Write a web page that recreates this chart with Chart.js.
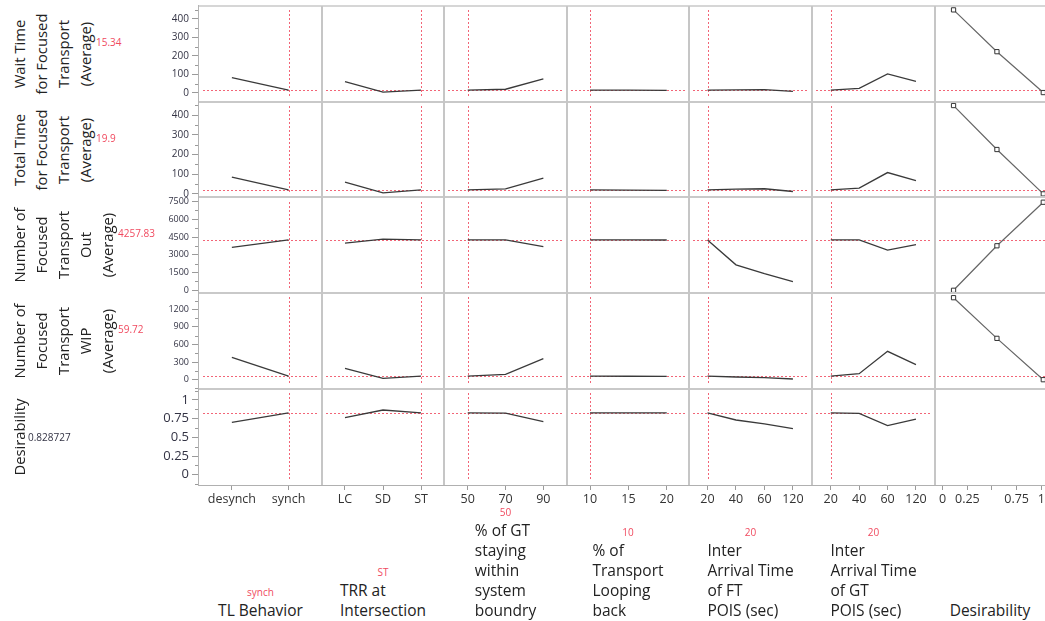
<!DOCTYPE html>
<html><head><meta charset="utf-8">
<script src="https://cdn.jsdelivr.net/npm/chart.js@4"></script>
<style>
html,body{margin:0;padding:0;background:#fff;width:1045px;height:621px;overflow:hidden;position:relative;font-family:'Open Sans',sans-serif;}
canvas{position:absolute;}
.ov{position:absolute;pointer-events:none;}
.rlab{position:absolute;text-align:center;white-space:nowrap;color:#222;font-size:14.8px;line-height:22px;transform:rotate(-90deg);}
.rval{position:absolute;font-size:10px;line-height:12px;white-space:nowrap;}
.flab{position:absolute;bottom:1px;transform:translateX(-50%);color:#222;}
.flab .cur{font-size:10px;line-height:16px;text-align:center;color:#f04a5f;}
.flab .nm{font-size:15.5px;line-height:20px;text-align:left;white-space:nowrap;}
</style></head><body>
<script>
// ---------- factors (x) ----------
const factorNames = [["TL Behavior"],["TRR at","Intersection"],["% of GT","staying","within","system","boundry"],["% of","Transport","Looping","back"],["Inter","Arrival Time","of FT","POIS (sec)"],["Inter","Arrival Time","of GT","POIS (sec)"],["Desirability"]];
const tlLevels = ["desynch","synch"];
const trrLevels = ["LC","SD","ST"];
const gtStayValues = [50,70,90];
const loopValues = [10,15,20];
const ftIatLevels = ["20","40","60","120"];
const gtIatLevels = ["20","40","60","120"];
const desirAxisTicks = [0,0.25,0.5,0.75,1];
const desirAxisLabels = ["0","0.25","","0.75","1"];
const currentFactorLabels = ["synch","ST","50","10","20","20"];

// ---------- responses (y) ----------
const responseNames = [["Wait Time","for Focused","Transport","(Average)"],["Total Time","for Focused","Transport","(Average)"],["Number of","Focused","Transport","Out","(Average)"],["Number of","Focused","Transport","WIP","(Average)"],["Desirability"]];
const currentResponses = [15.34, 19.9, 4257.83, 59.72, 0.828727];
const currentResponseLabels = ["15.34","19.9","4257.83","59.72","0.828727"];
const waitTicks = [0,100,200,300,400];
const totalTicks = [0,100,200,300,400];
const outTicks = [0,1500,3000,4500,6000,7500];
const wipTicks = [0,300,600,900,1200];
const desirTicks = [0,0.25,0.5,0.75,1];

// profile traces: one array per factor (TL, TRR, %GT, %Loop, IAT FT, IAT GT)
const waitTimeProfile  = [[83,15.34],[61,4,15.34],[15.34,20,76],[15.34,15,14],[15.34,17,18,8],[15.34,25,103,63]];
const totalTimeProfile = [[85,19.9],[60,5,19.9],[19.9,25,80],[19.9,19,18],[19.9,24,26,12],[19.9,29,108,67]];
const numOutProfile    = [[3618,4257.83],[3990,4330,4257.83],[4257.83,4258,3680],[4257.83,4255,4250],[4257.83,2150,1410,730],[4257.83,4258,3400,3850]];
const wipProfile       = [[382,59.72],[194,24,59.72],[59.72,92,358],[59.72,59,58],[59.72,46,34,12],[59.72,103,484,256]];
const desirProfile     = [[0.70,0.828727],[0.763,0.866,0.828727],[0.828727,0.825,0.71],[0.828727,0.828,0.828],[0.828727,0.732,0.68,0.616],[0.828727,0.82,0.656,0.745]];

// desirability functions (x = desirability, y = response)
const desirFnX = [0.11,0.55,1.02];
const waitDesirY  = [449,223,2];
const totalDesirY = [448,225,0];
const outDesirY   = [0,3760,7440];
const wipDesirY   = [1398,705,0];

// ---------- layout ----------
const colEdges = [199,322,444,567,689,812,935,1049];
const rowEdges = [6,102,197.5,293,389,485];
const xRanges = [[-0.58,1.59],[-0.605,2.605],[37.46,102.5],[7.0,22.9],[-0.65,3.67],[-0.66,3.67],[-0.078,1.078]];
const yRanges = [[-49,470],[-21,466],[-314,7797],[-158.6,1478],[-0.138,1.147]];
const yTickFont = [10,10,9,9,13];
const RED = '#f04a5f';

Chart.defaults.font.family = "'Open Sans', sans-serif";

const profiles = [waitTimeProfile,totalTimeProfile,numOutProfile,wipProfile,desirProfile];
const yTickSets = [waitTicks,totalTicks,outTicks,wipTicks,desirTicks];
const desirYs = [waitDesirY,totalDesirY,outDesirY,wipDesirY];
const factorLevels = [tlLevels,trrLevels,gtStayValues,loopValues,ftIatLevels,gtIatLevels];
function xPositions(c){
  if (c===6) return desirAxisTicks;
  const lv = factorLevels[c];
  return lv.map((v,i)=> typeof v==='number' ? v : i);
}
function xLabels(c){
  if (c===6) return desirAxisLabels;
  return factorLevels[c].map(v=>String(v));
}
const currentX = [1,2,50,10,0,0];

const refPlugin = {
  id:'refLines',
  beforeDatasetsDraw(chart, args, o){
    const {ctx, chartArea:a} = chart; const sx = chart.scales.x, sy = chart.scales.y;
    ctx.save(); ctx.strokeStyle = RED; ctx.globalAlpha = 0.85; ctx.lineWidth = 1; ctx.setLineDash([2,2]);
    if (o.y != null){
      const py = Math.round(sy.getPixelForValue(o.y))+0.5;
      ctx.beginPath(); ctx.moveTo(a.left+o.inL, py); ctx.lineTo(a.right-o.inR, py); ctx.stroke();
    }
    if (o.x != null){
      const px = Math.round(sx.getPixelForValue(o.x))+0.5;
      ctx.beginPath(); ctx.moveTo(px, a.top+4); ctx.lineTo(px, a.bottom-4); ctx.stroke();
    }
    ctx.restore();
  }
};
const minorPlugin = {
  id:'minorTicks',
  afterDraw(chart, args, o){
    if (!o.values) return;
    const {ctx, chartArea:a} = chart; const sy = chart.scales.y;
    ctx.save(); ctx.strokeStyle = '#9a9a9a'; ctx.lineWidth = 1;
    o.values.forEach(v=>{
      if (v < sy.min || v > sy.max) return;
      const py = Math.round(sy.getPixelForValue(v))+0.5;
      ctx.beginPath(); ctx.moveTo(a.left-4, py); ctx.lineTo(a.left, py); ctx.stroke();
    });
    ctx.restore();
  }
};

function minorValues(t){
  const step = t[1]-t[0]; const out=[];
  for (let v = t[0]-step/2; v <= t[t.length-1]+step; v += step) out.push(v);
  return out;
}
function noPad(s){ s.paddingTop = 0; s.paddingBottom = 0; s.paddingLeft = 0; s.paddingRight = 0; }

function makeChart(r, c){
  const left = colEdges[c], right = colEdges[c+1], top = rowEdges[r], bottom = rowEdges[r+1];
  const showY = c===0, showX = r===4;
  const yW = showY ? 49 : 0, xH = showX ? 30 : 0;
  const mT = showY ? 8 : 0, mB = (showY && !showX) ? 8 : 0;
  const cv = document.createElement('canvas');
  const w = Math.round(right-left+yW), h = Math.round(bottom-top)+xH+mT+mB;
  cv.width = w; cv.height = h;
  cv.style.left = (left-yW)+'px'; cv.style.top = (Math.round(top)-mT)+'px';
  cv.style.width = w+'px'; cv.style.height = h+'px';
  document.body.appendChild(cv);

  const datasets = [];
  if (c < 6){
    const xs = xPositions(c);
    datasets.push({data: xs.map((x,i)=>({x, y: profiles[r][c][i]})), borderColor:'#3a3a3a', borderWidth:1.3, pointRadius:0, fill:false, tension:0});
  } else if (r < 4){
    datasets.push({data: desirFnX.map((x,i)=>({x, y: desirYs[r][i]})), borderColor:'#666', borderWidth:1.2,
      pointStyle:'rect', pointRadius:3, pointBackgroundColor:'#fff', pointBorderColor:'#333', pointBorderWidth:1, fill:false, tension:0});
  }
  const xt = xPositions(c), xl = xLabels(c), yt = yTickSets[r];
  new Chart(cv, {
    type:'line',
    data:{datasets},
    options:{
      responsive:false, animation:false, devicePixelRatio:1,
      layout:{padding:{top:mT,bottom:mB,left:0,right:0}, autoPadding:false},
      plugins:{legend:{display:false}, tooltip:{enabled:false},
        refLines:{y: (r<4 || c<6) ? currentResponses[r] : null, x: c<6 ? currentX[c] : null, inL:4, inR: c===6?0:4},
        minorTicks:{values: showY ? minorValues(yt) : null}},
      scales:{
        x:{type:'linear', min:xRanges[c][0], max:xRanges[c][1], display: showX, position:'bottom',
          afterFit:s=>{ s.height = showX ? 30 : 0; noPad(s); },
          afterBuildTicks:s=>{s.ticks = xt.map(v=>({value:v}));},
          ticks:{autoSkip:false, maxRotation:0, padding:2, font:{size:12.5}, color:'#333', callback:(v,i)=>xl[i]},
          grid:{drawOnChartArea:false, drawTicks:true, tickLength:5, color:'#9a9a9a'}, border:{display:false}},
        y:{type:'linear', min:yRanges[r][0], max:yRanges[r][1], display: showY, position:'left',
          afterFit:s=>{ s.width = showY ? 49 : 0; noPad(s); },
          afterBuildTicks:s=>{s.ticks = yt.map(v=>({value:v}));},
          ticks:{autoSkip:false, padding:3, font:{size:yTickFont[r]}, color:'#333344', callback:(v)=>String(v)},
          grid:{drawOnChartArea:false, drawTicks:true, tickLength:7, color:'#9a9a9a'}, border:{display:false}}
      }
    },
    plugins:[refPlugin, minorPlugin]
  });
}

for (let r=0;r<5;r++) for (let c=0;c<7;c++) makeChart(r,c);

// frame lines
function ov(l,t,w,h,col){const d=document.createElement('div');d.className='ov';d.style.cssText=`left:${l}px;top:${t}px;width:${w}px;height:${h}px;background:${col};`;document.body.appendChild(d);}
ov(199,5,850,2,'#d6d6d6');
[102,197,293,389].forEach(y=>ov(199,y-1,850,2,'#c9c9c9'));
ov(199,485,850,1,'#b0b0b0');
ov(198,5,1,481,'#b4b4b4');
[322,444,567,689,812,935].forEach(x=>ov(x-1,6,2,479,'#c6c6c6'));

// response labels
responseNames.forEach((lines,r)=>{
  const cy = (rowEdges[r]+rowEdges[r+1])/2, n = lines.length, cx = 8 + n*11;
  const d = document.createElement('div'); d.className='rlab';
  d.style.width='150px'; d.style.height=(n*22)+'px';
  d.style.left=(cx-75)+'px'; d.style.top=(cy-n*11)+'px';
  d.innerHTML = lines.join('<br>');
  document.body.appendChild(d);
  const v = document.createElement('div'); v.className='rval';
  v.textContent = currentResponseLabels[r];
  v.style.color = r===4 ? '#333344' : RED;
  v.style.left = (8 + n*22 - (r===4?2:0))+'px';
  v.style.top = (cy - 6 - (r===4?0:12))+'px';
  document.body.appendChild(v);
});

// factor labels
factorNames.forEach((lines,c)=>{
  const cx = (colEdges[c] + Math.min(colEdges[c+1],1045))/2;
  const d = document.createElement('div'); d.className='flab';
  d.style.left = (c===6 ? 990 : cx)+'px';
  const cur = c<6 ? currentFactorLabels[c] : '';
  d.innerHTML = (cur ? `<div class="cur">${cur}</div>` : '') + `<div class="nm">${lines.join('<br>')}</div>`;
  document.body.appendChild(d);
});
</script>
</body></html>
